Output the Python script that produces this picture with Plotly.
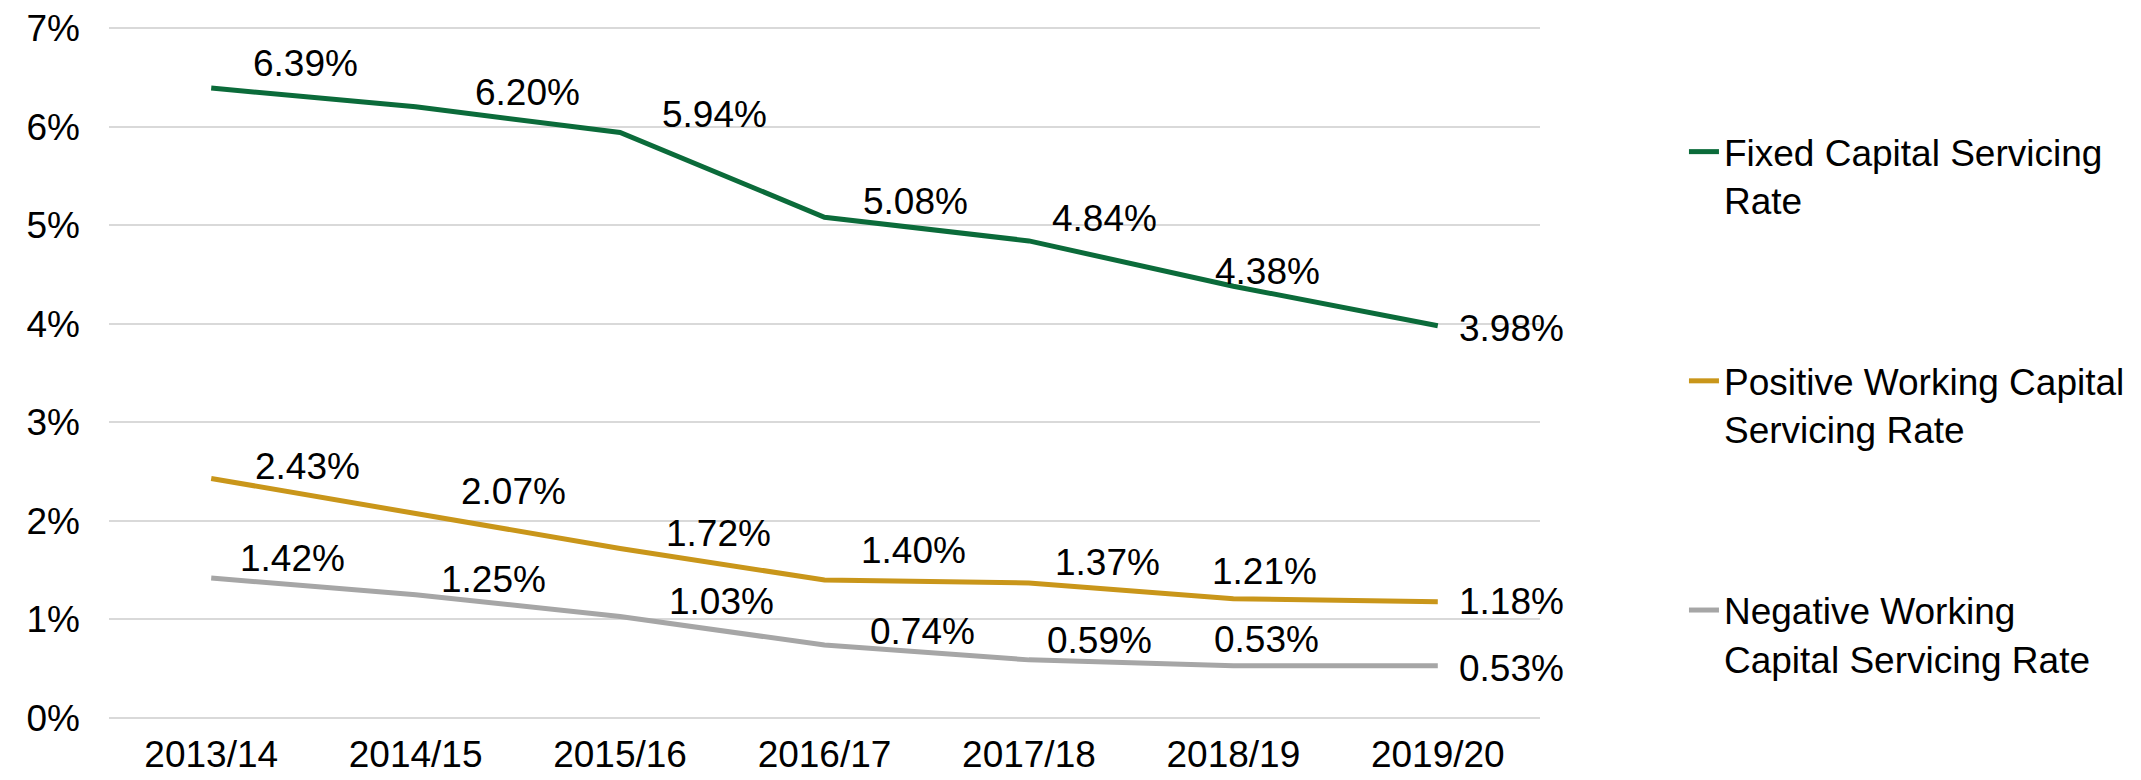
import plotly.graph_objects as go

years = ["2013/14", "2014/15", "2015/16", "2016/17", "2017/18", "2018/19", "2019/20"]
fixed_rate = [6.39, 6.20, 5.94, 5.08, 4.84, 4.38, 3.98]
positive_wc_rate = [2.43, 2.07, 1.72, 1.40, 1.37, 1.21, 1.18]
negative_wc_rate = [1.42, 1.25, 1.03, 0.74, 0.59, 0.53, 0.53]
series_names = ["Fixed Capital Servicing<br>Rate",
                "Positive Working Capital<br>Servicing Rate",
                "Negative Working<br>Capital Servicing Rate"]
y_ticks = [0, 1, 2, 3, 4, 5, 6, 7]
y_tick_labels = ["0%", "1%", "2%", "3%", "4%", "5%", "6%", "7%"]

# styling
colors = ["#0B6B3A", "#C9961A", "#A6A6A6"]
FONT = "Liberation Sans, Arial, sans-serif"
FS = 37
# label offsets (px) per series/point: (xshift, yshift)
label_offsets = [
    [(94, 25), (112, 14), (94, 18), (91, 16), (76, 22), (34, 15), (74, -3)],
    [(96, 12), (98, 22), (98, 15), (89, 30), (79, 20), (31, 27), (74, 0)],
    [(81, 20), (78, 15), (101, 15), (98, 14), (71, 19), (33, 26), (74, -3)],
]

fig = go.Figure()
all_series = [fixed_rate, positive_wc_rate, negative_wc_rate]
for i, (vals, name) in enumerate(zip(all_series, series_names)):
    fig.add_trace(go.Scatter(
        x=years, y=vals, mode="lines", name=name, legendgroup=f"g{i}",
        line=dict(color=colors[i], width=5),
        hoverinfo="skip",
    ))
    for j, v in enumerate(vals):
        dx, dy = label_offsets[i][j]
        fig.add_annotation(x=years[j], y=v, text=f"{v:.2f}%", showarrow=False,
                           xshift=dx, yshift=dy, xanchor="center", yanchor="middle",
                           font=dict(family=FONT, size=FS, color="#000000"))

fig.update_layout(
    width=2141, height=780,
    margin=dict(l=109, r=601, t=26, b=60, autoexpand=False),
    paper_bgcolor="white", plot_bgcolor="white",
    font=dict(family=FONT, size=FS, color="#000000"),
    showlegend=True,
    legend=dict(x=1.1006, xanchor="left", y=0.863, yanchor="top",
                font=dict(family=FONT, size=FS, color="#000000"),
                tracegroupgap=130, valign="top", itemwidth=30,
                bgcolor="rgba(0,0,0,0)"),
)
fig.update_xaxes(type="category", range=[-0.5, 6.5], showgrid=False, showline=False,
                 zeroline=False, ticks="", tickfont=dict(size=FS), ticklabelstandoff=9,
                 automargin=False)
fig.update_yaxes(range=[-0.02, 7.02], tickmode="array", tickvals=y_ticks,
                 ticktext=y_tick_labels, showgrid=True,
                 gridcolor="#D9D9D9", gridwidth=1.5, zeroline=False, showline=False,
                 tickfont=dict(size=FS), ticklabelstandoff=28, automargin=False)

fig.write_html("out.html", config={"displayModeBar": False},
               post_script="document.body.style.margin='0';document.body.style.padding='0';")
